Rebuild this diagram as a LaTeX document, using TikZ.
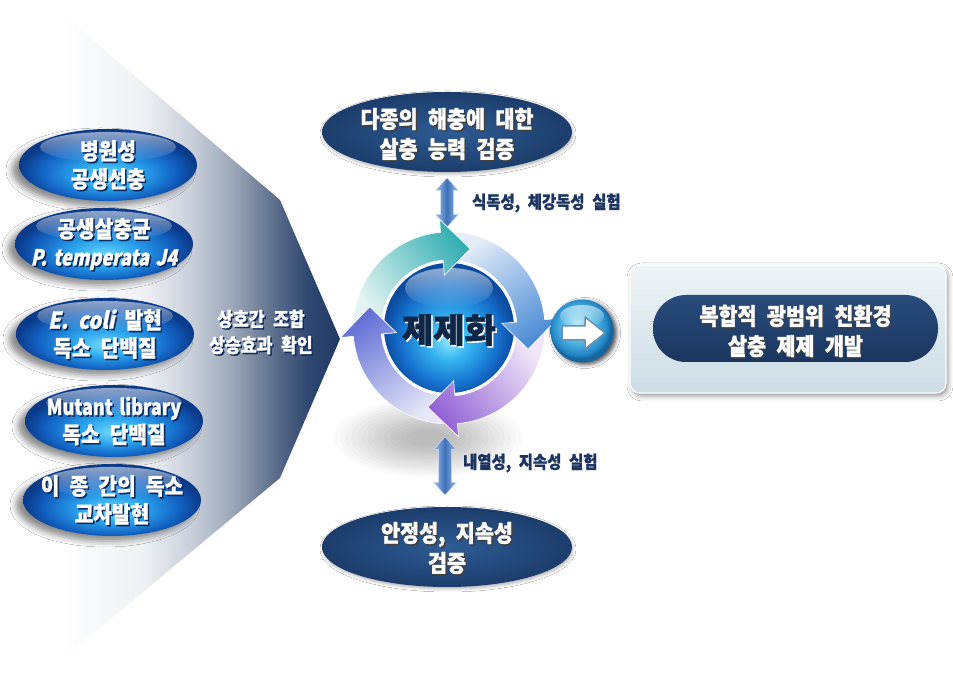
\documentclass[tikz,border=0pt]{standalone}
\usepackage{fontspec}
\setmainfont{Noto Sans CJK KR}[WordSpace=2.2, FakeStretch=0.88, BoldFeatures={FakeBold=1.2}]
\newfontfamily\slfont{Noto Sans CJK KR}[WordSpace=2.2, FakeStretch=0.88, FakeSlant=0.2, BoldFeatures={FakeBold=1.2}]
\newfontfamily\latfont{Noto Sans CJK KR}[WordSpace=1.6, FakeStretch=0.82, BoldFeatures={FakeBold=1.2}]
\newfontfamily\latslfont{Noto Sans CJK KR}[WordSpace=1.6, FakeStretch=0.82, FakeSlant=0.2, BoldFeatures={FakeBold=1.2}]
\newfontfamily\wfont{Noto Sans CJK KR}[BoldFeatures={FakeBold=1.6}]
\usetikzlibrary{shapes.geometric,shadows.blur,fadings,calc}

\definecolor{navy}{HTML}{1F3A64}
\definecolor{ga1}{HTML}{EEF0F4}
\definecolor{ga2}{HTML}{C6CDD8}
\definecolor{ga3}{HTML}{9AA5B7}
\definecolor{ga4}{HTML}{6F7F98}
\definecolor{ga5}{HTML}{4A5E80}
\definecolor{ga6}{HTML}{2E4770}
\pgfdeclarehorizontalshading{bigarrowsh}{100bp}{color(0bp)=(white); color(25bp)=(white); color(40bp)=(ga1); color(49bp)=(ga2); color(56bp)=(ga3); color(61bp)=(ga4); color(65.5bp)=(ga5); color(69.5bp)=(ga6); color(75bp)=(navy); color(100bp)=(navy)}

\definecolor{gb1}{HTML}{74DCFF}
\definecolor{gb2}{HTML}{2BA5EE}
\definecolor{gb3}{HTML}{1262C2}
\definecolor{gb4}{HTML}{0A3A8A}
\pgfdeclareradialshading{glossy}{\pgfpoint{0bp}{-8bp}}{color(0bp)=(gb1); color(9bp)=(gb2); color(19bp)=(gb3); color(25bp)=(gb4); color(50bp)=(gb4)}

\definecolor{sp1}{HTML}{8FE6FF}
\definecolor{sp2}{HTML}{35B4F0}
\definecolor{sp3}{HTML}{1570CC}
\definecolor{sp4}{HTML}{0C4CA0}
\pgfdeclareradialshading{spheresh}{\pgfpoint{0bp}{-5bp}}{color(0bp)=(sp1); color(8bp)=(sp2); color(19bp)=(sp3); color(25bp)=(sp4); color(50bp)=(sp4)}

\definecolor{bt1}{HTML}{B5ECFA}
\definecolor{bt2}{HTML}{5BBDE8}
\definecolor{bt3}{HTML}{2389C8}
\definecolor{bt4}{HTML}{15659E}
\pgfdeclareradialshading{btnsh}{\pgfpoint{-4bp}{6bp}}{color(0bp)=(bt1); color(12bp)=(bt2); color(22bp)=(bt3); color(25bp)=(bt4); color(50bp)=(bt4)}

\definecolor{nv1}{HTML}{2E5C94}
\definecolor{nv2}{HTML}{1C3D6C}
\definecolor{shb}{HTML}{0A2A5E}
\definecolor{dal}{HTML}{9DBDE8}
\definecolor{dad}{HTML}{3E70B8}
\definecolor{lbl}{HTML}{1B3560}
\definecolor{ctr}{HTML}{0E2748}
\definecolor{bx1}{HTML}{EEF4F7}
\definecolor{bx2}{HTML}{CCDCE5}
\definecolor{pl1}{HTML}{2A4C7C}
\definecolor{pl2}{HTML}{1A365F}
\definecolor{tealT}{HTML}{E3F4F2}
\definecolor{tealH}{HTML}{34AEB2}
\definecolor{blueT}{HTML}{E3ECF7}
\definecolor{blueH}{HTML}{4D8CD6}
\definecolor{purT}{HTML}{F0E6F7}
\definecolor{purH}{HTML}{9263D6}
\definecolor{bvT}{HTML}{E6E7F7}
\definecolor{bvH}{HTML}{6470D6}
\definecolor{arrline}{HTML}{6A8FB0}

\tikzfading[name=hlfade, top color=transparent!45, bottom color=transparent!100]

\tikzset{
  glossyell/.style={ellipse, shade, shading=glossy, minimum width=178pt, minimum height=72pt, inner sep=0pt,
    blur shadow={shadow xshift=-7pt, shadow yshift=-5pt, shadow blur radius=6pt, shadow opacity=45}},
  navyell/.style={ellipse, shade, inner color=nv1, outer color=nv2, minimum width=250pt, minimum height=80pt, inner sep=0pt,
    blur shadow={shadow xshift=1pt, shadow yshift=-2pt, shadow blur radius=3pt, shadow opacity=30}},
  wtext/.style={font=\fontsize{23}{28}\selectfont\bfseries, text=white, align=center, inner sep=0pt},
  etext/.style={font=\fontsize{23.5}{30}\selectfont\bfseries, text=white, align=center, inner sep=0pt},
  midtext/.style={font=\fontsize{19.5}{26}\selectfont\bfseries, text=white, align=center, inner sep=0pt},
  smalltext/.style={font=\fontsize{17.5}{19}\selectfont\bfseries, text=lbl, inner sep=0pt},
  ctrtext/.style={font=\wfont\fontsize{34}{36}\selectfont\bfseries, text=ctr, inner sep=0pt},
  rbox/.style={rectangle, rounded corners=10pt, minimum width=316pt, minimum height=128pt, inner sep=0pt,
    top color=bx1, bottom color=bx2, draw=white, line width=1.2pt,
    blur shadow={shadow xshift=2pt, shadow yshift=-3pt, shadow blur radius=5pt, shadow opacity=40}},
  pill/.style={rectangle, rounded corners=33pt, minimum width=285pt, minimum height=67pt, inner sep=0pt,
    top color=pl1, bottom color=pl2},
  btnstyle/.style={circle, minimum size=63pt, inner sep=0pt, shade, shading=btnsh,
    blur shadow={shadow xshift=3pt, shadow yshift=-2pt, shadow blur radius=4pt, shadow opacity=70}},
}

\newcommand\gell[3]{%
  \node[glossyell] (#1) at (#2) {};
  \fill[white, path fading=hlfade] ($(#1.center)+(0,18)$) ellipse [x radius=68, y radius=15];
  \node[wtext, text=shb] (#1s) at ($(#1.center)+(1.5,-1.5)$) {#3};
  \node[wtext] (#1t) at (#1.center) {#3};}

\newcommand\dblarrow[2]{%
  \path[shade, left color=dal, right color=dal, middle color=dad, draw=white!50!dal, line width=0.5pt]
    (#1) -- ($(#1)+(11.5,-12.5)$) -- ($(#1)+(6.5,-12.5)$) -- ($(#2)+(6.5,12.5)$) -- ($(#2)+(11.5,12.5)$)
    -- (#2) -- ($(#2)+(-11.5,12.5)$) -- ($(#2)+(-6.5,12.5)$) -- ($(#1)+(-6.5,-12.5)$) -- ($(#1)+(-11.5,-12.5)$) -- cycle;}

\newcommand\ringarrow[3]{%
  \pgfmathsetmacro\tA{#1+102}%
  \pgfmathsetmacro\bA{#1+20}%
  \pgfmathsetmacro\sA{#1-129}%
  \path[shade, top color=#3, bottom color=#2, shading angle=\sA, draw=white, line width=0.6pt]
    (\tA:96) arc[start angle=\tA, end angle=\bA, radius=96] -- (\bA:109) -- (#1:82) -- (\bA:53) -- (\bA:68)
    arc[start angle=\bA, end angle=\tA, radius=68] -- cycle;}

\begin{document}
\begin{tikzpicture}[x=1pt,y=1pt]
\useasboundingbox (0,0) rectangle (953,674);
\fill[white] (0,0) rectangle (953,674);

% big arrow
\path[shade, shading=bigarrowsh] (60,662) -- (280,474) -- (340,335) -- (280,196) -- (60,13) -- cycle;
\node[midtext, text=shb] (combs) at (262.5,340.5) {상호간 조합\\상승효과 확인};
\node[midtext] (comb) at (261,342) {상호간 조합\\상승효과 확인};

% left ellipses
\gell{e1}{108,509}{병원성\\공생선충}
\gell{e2}{104,430}{공생살충균\\{\latslfont\fontsize{22}{28}\selectfont P. temperata J4}}
\gell{e3}{105,340}{{\slfont E. coli} 발현\\독소 단백질}
\gell{e4}{114,253}{{\latfont\fontsize{22}{28}\selectfont Mutant library}\\독소 단백질}
\gell{e5}{112,174}{이 종 간의 독소\\교차발현}

% soft shadow under ring
\foreach \k in {0,...,13}
  \fill[black, opacity=0.018] (428,236) ellipse [x radius=22+5.5*\k, y radius=8+2.4*\k];

% top ellipse
\node[navyell] (top) at (447,542) {};
\node[etext, text=black!75] (topts) at (448.5,538.5) {다종의 해충에 대한\\살충 능력 검증};
\node[etext] (topt) at (447,540) {다종의 해충에 대한\\살충 능력 검증};

% bottom ellipse
\node[navyell] (bot) at (447,127) {};
\node[etext, text=black!75] (botts) at (448.5,124.5) {안정성, 지속성\\검증};
\node[etext] (bott) at (447,126) {안정성, 지속성\\검증};

% double arrows
\coordinate (d1a) at (447,496);
\coordinate (d1b) at (447,447);
\dblarrow{d1a}{d1b}
\node[smalltext, anchor=west] (l1) at (472,471) {식독성, 체강독성 실험};
\coordinate (d2a) at (445,237);
\coordinate (d2b) at (445,179);
\dblarrow{d2a}{d2b}
\node[smalltext, anchor=west] (l2) at (463,211) {내열성, 지속성 실험};

% ring
\begin{scope}[shift={(449,346)}]
  \path[shade, shading=spheresh] (0,0) circle [radius=65];
  \fill[white, path fading=hlfade] (0,40) ellipse [x radius=44, y radius=20];
  \ringarrow{165}{bvT}{bvH}
  \ringarrow{-105}{purT}{purH}
  \ringarrow{-15}{blueT}{blueH}
  \ringarrow{75}{tealT}{tealH}
  \begin{scope}
    \clip (0,0) -- (158:130) arc[start angle=158, end angle=192, radius=130] -- cycle;
    \ringarrow{165}{bvT}{bvH}
  \end{scope}
\end{scope}
\node[ctrtext, text=white] (ctrs) at (450.5,342.5) {제제화};
\node[ctrtext] (ctr) at (449,344) {제제화};

% button
\node[btnstyle] (btn) at (582,343) {};
\fill[white, path fading=hlfade] ($(btn.center)+(0,15)$) ellipse [x radius=22, y radius=11];
\path[fill=white, draw=arrline, line width=1.5pt, line join=round]
  ($(btn.center)+(-20,5)$) -- ($(btn.center)+(3,5)$) -- ($(btn.center)+(3,14)$) -- ($(btn.center)+(23,-2)$)
  -- ($(btn.center)+(3,-18)$) -- ($(btn.center)+(3,-9)$) -- ($(btn.center)+(-20,-9)$) -- cycle;

% right box
\node[rbox] (box) at (788,345) {};
\node[pill] (pillnode) at (795.5,345.5) {};
\node[etext, text=black!75] (pts) at (796.5,341.5) {복합적 광범위 친환경\\살충 제제 개발};
\node[etext] (pt) at (795.5,343) {복합적 광범위 친환경\\살충 제제 개발};
\end{tikzpicture}
\end{document}
